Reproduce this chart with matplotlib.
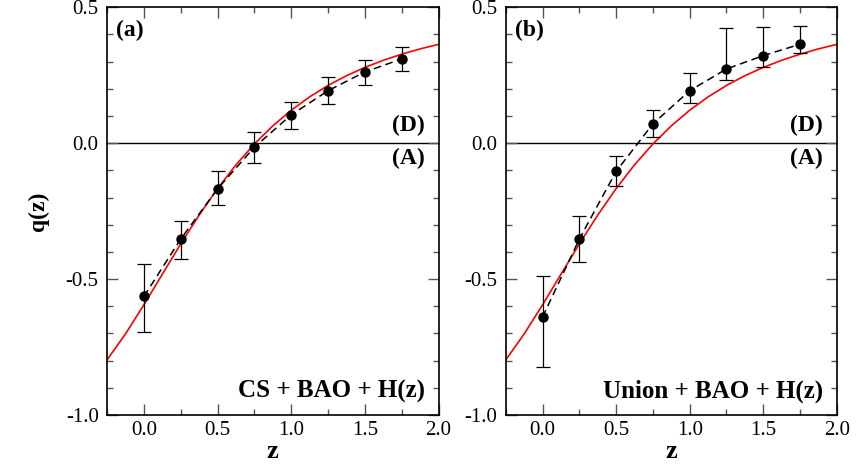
import matplotlib
matplotlib.use("Agg")
import matplotlib.pyplot as plt
from matplotlib.ticker import MultipleLocator, FormatStrFormatter

plt.rcParams['font.family'] = ['Liberation Serif', 'DejaVu Serif']

# Reconstructed deceleration parameter in redshift bins
z_bins = [0.0, 0.25, 0.5, 0.75, 1.0, 1.25, 1.5, 1.75]

q_cs = [-0.564, -0.353, -0.168, -0.015, 0.104, 0.193, 0.262, 0.310]
q_cs_lo = [0.131, 0.074, 0.059, 0.057, 0.051, 0.048, 0.048, 0.043]
q_cs_hi = [0.119, 0.065, 0.064, 0.055, 0.049, 0.050, 0.045, 0.042]

q_un = [-0.640, -0.353, -0.104, 0.071, 0.193, 0.273, 0.322, 0.364]
q_un_lo = [0.185, 0.083, 0.053, 0.048, 0.046, 0.040, 0.040, 0.033]
q_un_hi = [0.153, 0.086, 0.057, 0.050, 0.064, 0.150, 0.107, 0.067]

# Reference LCDM q(z) curve
z_model = [-0.25, -0.125, 0.0, 0.125, 0.25, 0.375, 0.5, 0.625, 0.75, 0.875,
           1.0, 1.125, 1.25, 1.375, 1.5, 1.625, 1.75, 1.875, 2.0]
q_model = [-0.7975, -0.7021, -0.595, -0.4826, -0.3709, -0.2647, -0.1672,
           -0.0798, -0.0030, 0.0637, 0.1211, 0.1703, 0.2123, 0.2481,
           0.2787, 0.3049, 0.3274, 0.3468, 0.3635]

panels = [
    ("(a)", "CS + BAO + H(z)", q_cs, q_cs_lo, q_cs_hi),
    ("(b)", "Union + BAO + H(z)", q_un, q_un_lo, q_un_hi),
]

fig = plt.figure(figsize=(8.58, 4.70), dpi=100)
ax_pos = [[0.1247, 0.117, 0.3865, 0.8676], [0.5894, 0.117, 0.3860, 0.8676]]

for i, (tag, label, q, lo, hi) in enumerate(panels):
    ax = fig.add_axes(ax_pos[i])
    ax.axhline(0.0, color='black', lw=1.0, zorder=1)
    ax.plot(z_model, q_model, color='red', lw=1.2, zorder=2)
    ax.plot(z_bins, q, color='black', lw=1.1, ls=(0, (5, 3)), zorder=3)
    ax.errorbar(z_bins, q, yerr=[lo, hi], fmt='o', color='black',
                ms=6.5, capsize=5, elinewidth=0.9, capthick=0.9, zorder=4)

    ax.set_xlim(-0.25, 2.0)
    ax.set_ylim(-1.0, 0.5)
    ax.xaxis.set_major_locator(MultipleLocator(0.5))
    ax.xaxis.set_minor_locator(MultipleLocator(0.25))
    ax.yaxis.set_major_locator(MultipleLocator(0.5))
    ax.yaxis.set_minor_locator(MultipleLocator(0.1))
    ax.xaxis.set_major_formatter(FormatStrFormatter('%.1f'))
    ax.yaxis.set_major_formatter(FormatStrFormatter('%.1f'))
    ax.tick_params(which='both', direction='in', top=True, right=True,
                   labelsize=15, width=1.0, color='#555555')
    ax.tick_params(axis='x', which='major', length=8, pad=4)
    ax.tick_params(axis='y', which='major', length=8, pad=6)
    ax.tick_params(which='minor', length=4.5)
    for s in ax.spines.values():
        s.set_linewidth(1.2)

    ax.set_xlabel("z", fontsize=19, fontweight='bold', labelpad=0)
    if i == 0:
        ax.set_ylabel("q(z)", fontsize=17, fontweight='bold', labelpad=12)

    ax.text(0.027, 0.968, tag, transform=ax.transAxes, fontsize=17,
            fontweight='bold', ha='left', va='top')
    ax.text(0.958, 0.683, "(D)", transform=ax.transAxes, fontsize=17,
            fontweight='bold', ha='right', va='bottom')
    ax.text(0.958, 0.655, "(A)", transform=ax.transAxes, fontsize=17,
            fontweight='bold', ha='right', va='top')
    ax.text(0.958, 0.030, label, transform=ax.transAxes, fontsize=18,
            fontweight='bold', ha='right', va='bottom')

fig.savefig("out.png", dpi=100)
